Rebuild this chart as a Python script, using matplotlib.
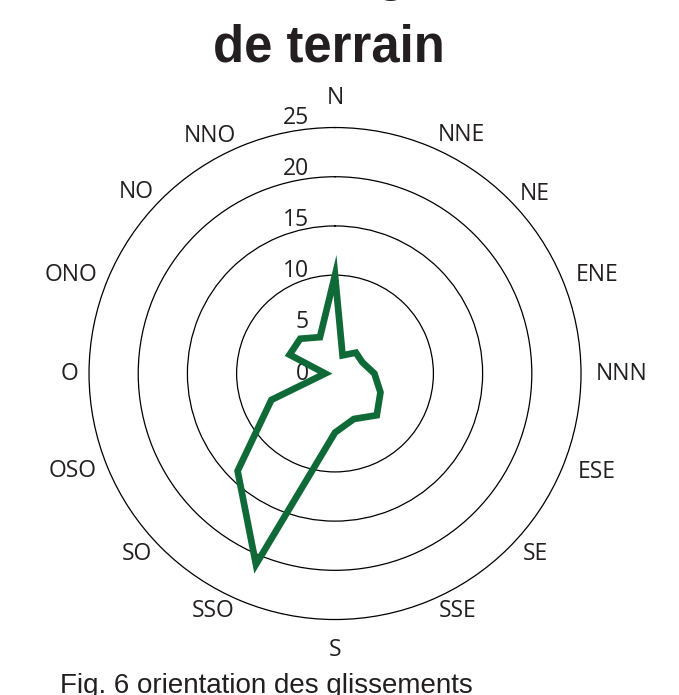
import numpy as np
import matplotlib.pyplot as plt

# --------------------------------
# Data
# --------------------------------
directions = ["N", "NNE", "NE", "ENE", "NNN", "ESE", "SE", "SSE",
              "S", "SSO", "SO", "OSO", "O", "ONO", "NO", "NNO"]
counts = [10, 2, 3, 3, 4, 5, 6, 5, 6, 21, 14, 7, 1, 5, 5, 4]
r_ticks = [0, 5, 10, 15, 20, 25]
grid_rings = [10, 15, 20]
title = "Orientation des glissements\nde terrain"
caption = "Fig. 6 orientation des glissements"

# where the direction labels sit (angle in deg, distance in px from centre)
label_angle = [0, 28, 48, 69.4, 90, 110.6, 132, 152.6,
               180, 207.2, 227.6, 249.6, 270, 290.4, 312.5, 332.2]
label_dist = [276, 270, 269, 280, 287, 280, 270, 267,
              276, 267, 268, 280, 266, 282, 269, 269]

# --------------------------------
# Plot
# --------------------------------
fig = plt.figure(figsize=(6.79, 6.95), dpi=100)
ax = fig.add_axes([0.1311, 0.1086, 0.7246, 0.7079], projection="polar")
ax.set_theta_zero_location("N")
ax.set_theta_direction(-1)
ax.set_ylim(0, 25)

ax.set_xticks([])
ax.set_yticks(grid_rings)
ax.set_yticklabels([])
ax.xaxis.grid(False)
ax.yaxis.grid(True, color="black", linewidth=0.9)
ax.spines["polar"].set_linewidth(0.9)

theta = np.deg2rad(np.arange(len(directions)) * 22.5)
# closed polygon so every corner gets a sharp miter join
ax.fill(theta, counts, facecolor="none", edgecolor="#0f6a38",
        linewidth=4.8, joinstyle="miter", zorder=3)

lab_font = dict(family="Open Sans", fontsize=16.5, color="#231f20")
px_per_unit = 246 / 25
for a, name, d in zip(label_angle, directions, label_dist):
    ax.text(np.deg2rad(a), d / px_per_unit, name, ha="center", va="center",
            clip_on=False, **lab_font)

for r in r_ticks:
    ax.annotate(str(r), xy=(0, r), xytext=(-26, 0.4 * r),
                textcoords="offset pixels", ha="right", va="center",
                zorder=2, **lab_font)

fig.text(329 / 679, (695 - 62) / 695, title, ha="center", va="baseline",
         family="Liberation Sans", fontsize=36.5, fontweight="bold",
         linespacing=1.6, color="#231f20")
fig.text(60 / 679, 2 / 695, caption, ha="left", va="baseline",
         family="Liberation Sans", fontsize=20, color="#231f20")

fig.savefig("out.png", dpi=100)
